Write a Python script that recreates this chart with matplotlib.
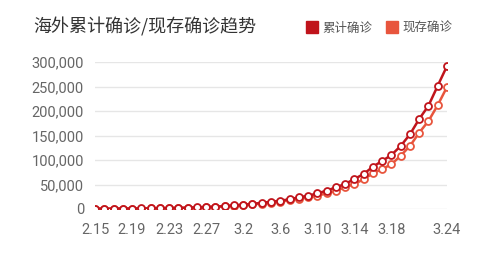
import matplotlib
matplotlib.use('Agg')
from matplotlib import pyplot as plt
from matplotlib.lines import Line2D
from matplotlib.ticker import FuncFormatter

plt.rcParams['font.family'] = ['Roboto', 'Noto Sans CJK SC', 'DejaVu Sans']

# 日期 2.15 ~ 3.24
dates = ['2.%d' % d for d in range(15, 30)] + ['3.%d' % d for d in range(1, 25)]

# 海外累计确诊
total = [530, 600, 700, 800, 900, 1100, 1300, 1600, 1900, 2300, 2800, 3300,
         4000, 4800, 6000, 7300, 8800, 10500, 12600, 14700, 17000, 19800,
         23800, 27000, 32000, 37300, 44300, 51000, 61200, 71400, 86300,
         98000, 110200, 128600, 152400, 183700, 210800, 251600, 291800]

# 海外现存确诊
current = [500, 560, 650, 740, 830, 1000, 1200, 1450, 1700, 2050, 2500, 2950,
           3600, 4300, 5400, 6500, 7800, 9300, 11100, 13000, 15000, 17500,
           20500, 23800, 27000, 32000, 36700, 44300, 51000, 60600, 72900,
           81600, 91200, 108800, 128600, 155700, 179600, 212000, 249000]

tick_labels = ['2.15', '2.19', '2.23', '2.27', '3.2', '3.6', '3.10', '3.14', '3.18', '3.24']

c_total = '#c0141b'
c_current = '#e8553d'

fig = plt.figure(figsize=(5, 2.56), dpi=100)
ax = fig.add_axes([95 / 500, 1 - 209 / 256, 352 / 500, 147 / 256])

x = list(range(len(dates)))
ax.plot(x, current, '-o', color=c_current, lw=1.8, ms=5,
        mfc='white', mec=c_current, mew=1.3, zorder=3)
ax.plot(x, total, '-o', color=c_total, lw=1.8, ms=5,
        mfc='white', mec=c_total, mew=1.3, zorder=4)

ax.set_xlim(0, len(dates) - 1)
ax.set_ylim(0, 300000)
ax.set_yticks(range(0, 300001, 50000))
ax.yaxis.set_major_formatter(FuncFormatter(lambda v, p: '{:,.0f}'.format(v)))
ticks = [dates.index(t) for t in tick_labels]
ax.set_xticks(ticks)
ax.set_xticklabels(tick_labels)

ax.grid(axis='y', color='#e6e6e6', lw=1)
ax.set_axisbelow(True)
for s in ax.spines.values():
    s.set_visible(False)
ax.tick_params(length=0, labelsize=10.5)
ax.tick_params(axis='y', pad=8)
ax.tick_params(axis='x', pad=10)
for lab in ax.get_xticklabels() + ax.get_yticklabels():
    lab.set_color('#666666')

fig.text(33 / 500, 1 - 27 / 256, '海外累计确诊/现存确诊趋势', fontsize=13,
         color='#333333', va='center', ha='left', family=['Noto Sans CJK SC'])

handles = [Line2D([], [], marker='s', ls='none', color=c_total, ms=8),
           Line2D([], [], marker='s', ls='none', color=c_current, ms=8)]
fig.legend(handles, ['累计确诊', '现存确诊'], ncol=2, frameon=False,
           loc='center left', bbox_to_anchor=(296 / 500, 1 - 28 / 256),
           prop={'family': 'Noto Sans CJK SC', 'size': 9}, labelcolor='#555555',
           handlelength=0.8, handletextpad=0.4, columnspacing=1.2)

fig.savefig('out.png', dpi=100, facecolor='white')
